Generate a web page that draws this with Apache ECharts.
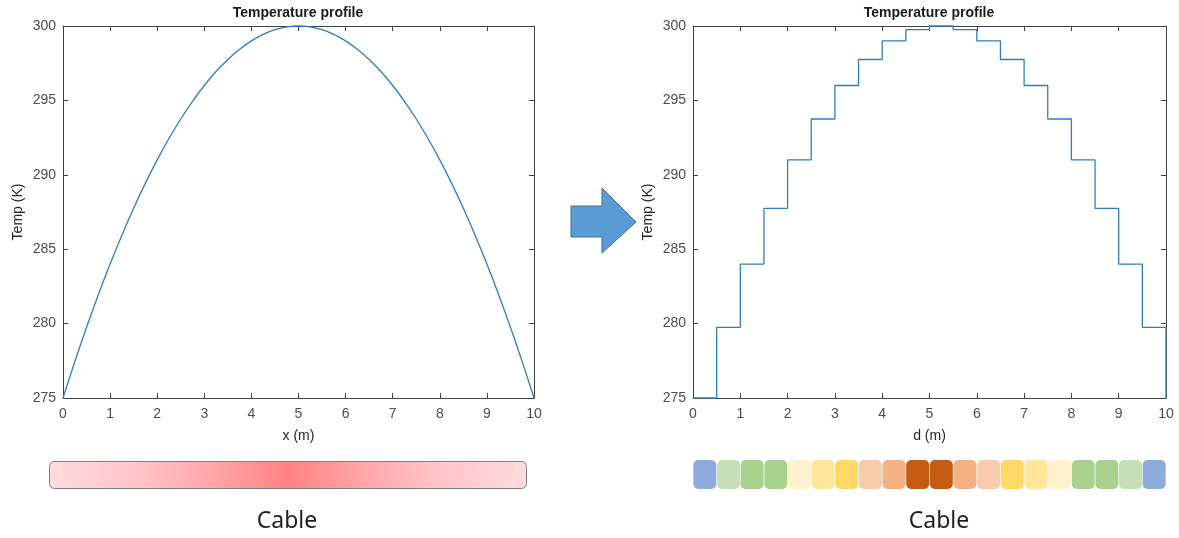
<!DOCTYPE html>
<html>
<head>
<meta charset="utf-8">
<script src="https://cdn.jsdelivr.net/npm/echarts@6/dist/echarts.min.js"></script>
<style>
html,body{margin:0;padding:0;background:#fff;}
#chart{width:1179px;height:538px;}
</style>
</head>
<body>
<div id="chart"></div>
<script>
// ---- data ----
const xTicks = [0,1,2,3,4,5,6,7,8,9,10];
const yTicks = [275,280,285,290,295,300];
// continuous profile (x in m, T in K)
const profileX = [0,0.25,0.5,0.75,1,1.25,1.5,1.75,2,2.25,2.5,2.75,3,3.25,3.5,3.75,4,4.25,4.5,4.75,5,
                  5.25,5.5,5.75,6,6.25,6.5,6.75,7,7.25,7.5,7.75,8,8.25,8.5,8.75,9,9.25,9.5,9.75,10];
const profileT = [275,277.44,279.75,281.94,284,285.94,287.75,289.44,291,292.44,293.75,294.94,296,296.94,297.75,298.44,299,299.44,299.75,299.94,300,
                  299.94,299.75,299.44,299,298.44,297.75,296.94,296,294.94,293.75,292.44,291,289.44,287.75,285.94,284,281.94,279.75,277.44,275];
// stepped (discretised) profile: segment start d and level
const stepD = [0,0.5,1,1.5,2,2.5,3,3.5,4,4.5,5,5.5,6,6.5,7,7.5,8,8.5,9,9.5,10];
const stepT = [275,279.75,284,287.75,291,293.75,296,297.75,299,299.75,300,299.75,299,297.75,296,293.75,291,287.75,284,279.75,275];
// cable segments (20 x 0.5 m)
const segmentNames = ['s1','s2','s3','s4','s5','s6','s7','s8','s9','s10','s11','s12','s13','s14','s15','s16','s17','s18','s19','s20'];
const segmentColors = ['#8FAADC','#C5E0B4','#A9D18E','#A9D18E','#FFF2CC','#FFE699','#FFD966','#F8CBAD','#F4B183','#C55A11',
                       '#C55A11','#F4B183','#F8CBAD','#FFD966','#FFE699','#FFF2CC','#A9D18E','#A9D18E','#C5E0B4','#8FAADC'];

// ---- chart ----
const axisColor = '#404040';
const labelColor = '#4d4d4d';
const font = 'Liberation Sans, Arial, sans-serif';
const lineColor = '#2E7EC0';

function mainX(grid, name, show) {
  return {
    type:'value', gridIndex:grid, min:0, max:10, interval:1,
    position: show ? 'bottom' : 'top',
    name: show ? name : '', nameLocation:'middle', nameGap:31,
    nameTextStyle:{color:'#262626', fontSize:14, fontFamily:font},
    axisLine:{show:true, onZero:false, lineStyle:{color:axisColor, width:1}},
    axisTick:{show:true, inside:true, length:5, lineStyle:{color:axisColor}},
    axisLabel:{show:show, color:labelColor, fontSize:14, fontFamily:font, margin:9},
    splitLine:{show:false}
  };
}
function mainY(grid, show) {
  return {
    type:'value', gridIndex:grid, min:275, max:300, interval:5,
    position: show ? 'left' : 'right',
    name: show ? 'Temp (K)' : '', nameLocation:'middle', nameGap:38,
    nameTextStyle:{color:'#262626', fontSize:14, fontFamily:font},
    axisLine:{show:true, onZero:false, lineStyle:{color:axisColor, width:1}},
    axisTick:{show:true, inside:true, length:5, lineStyle:{color:axisColor}},
    axisLabel:{show:show, color:labelColor, fontSize:14, fontFamily:font, margin:7},
    splitLine:{show:false}
  };
}

const option = {
  backgroundColor:'#ffffff',
  animation:false,
  grid:[
    {left:63, top:26, width:471, height:372, outerBoundsMode:'none'},
    {left:693, top:26, width:473, height:372, outerBoundsMode:'none'},
    {left:49, top:461, width:478, height:28, outerBoundsMode:'none'},
    {left:693, top:460, width:473, height:29, outerBoundsMode:'none'}
  ],
  xAxis:[
    mainX(0,'x (m)',true), mainX(0,'',false),
    mainX(1,'d (m)',true), mainX(1,'',false),
    {type:'category', gridIndex:2, data:['cable'], show:false},
    {type:'category', gridIndex:3, data:segmentNames, show:false}
  ],
  yAxis:[
    mainY(0,true), mainY(0,false),
    mainY(1,true), mainY(1,false),
    {type:'value', gridIndex:2, min:0, max:1, show:false},
    {type:'value', gridIndex:3, min:0, max:1, show:false}
  ],
  series:[
    {
      type:'line', xAxisIndex:0, yAxisIndex:0, symbol:'none', smooth:0.3, clip:false,
      lineStyle:{color:lineColor, width:1.3},
      data: profileX.map((x,i)=>[x, profileT[i]])
    },
    {
      type:'line', xAxisIndex:2, yAxisIndex:2, symbol:'none', step:'end', clip:false,
      lineStyle:{color:lineColor, width:1.3},
      data: stepD.map((d,i)=>[d, stepT[i]])
    },
    {
      type:'bar', xAxisIndex:4, yAxisIndex:4, barWidth:'100%', silent:true,
      itemStyle:{
        borderRadius:5, borderColor:'#808080', borderWidth:1,
        color:{type:'linear', x:0, y:0, x2:1, y2:0, colorStops:[
          {offset:0, color:'#FFDCDE'},
          {offset:0.2, color:'#FFC2C5'},
          {offset:0.35, color:'#FFA5A8'},
          {offset:0.5, color:'#FF8282'},
          {offset:0.65, color:'#FFA5A8'},
          {offset:0.8, color:'#FFC2C5'},
          {offset:1, color:'#FFDCDE'}
        ]}
      },
      data:[1]
    },
    {
      type:'bar', xAxisIndex:5, yAxisIndex:5, barCategoryGap:'3%', silent:true,
      itemStyle:{borderRadius:5},
      data: segmentColors.map(c=>({value:1, itemStyle:{color:c}}))
    }
  ],
  graphic:[
    {type:'text', style:{text:'Temperature profile', x:298, y:13, textAlign:'center', textVerticalAlign:'middle', font:'bold 14px "Liberation Sans", Arial, sans-serif', fill:'#1a1a1a'}},
    {type:'text', style:{text:'Temperature profile', x:929, y:13, textAlign:'center', textVerticalAlign:'middle', font:'bold 14px "Liberation Sans", Arial, sans-serif', fill:'#1a1a1a'}},
    {type:'text', style:{text:'Cable', x:287, y:521, textAlign:'center', textVerticalAlign:'middle', font:'23px "Noto Sans", sans-serif', fill:'#1f1f1f'}},
    {type:'text', style:{text:'Cable', x:939, y:521, textAlign:'center', textVerticalAlign:'middle', font:'23px "Noto Sans", sans-serif', fill:'#1f1f1f'}},
    {type:'polygon', shape:{points:[[571,206],[602,206],[602,188],[636,222],[602,253],[602,237],[571,237]]},
     style:{fill:'#5B9BD5', stroke:'#41719C', lineWidth:1}}
  ]
};
const chart = echarts.init(document.getElementById('chart'), null, {renderer:'canvas'});
chart.setOption(option);
</script>
</body>
</html>
